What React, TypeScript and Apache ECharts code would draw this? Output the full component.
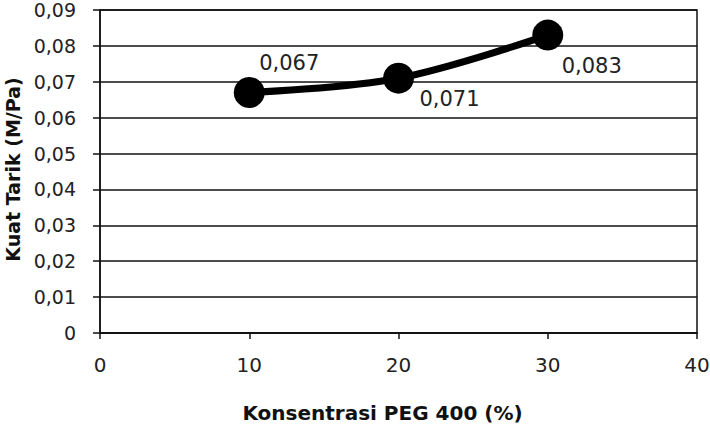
import React, { useEffect, useRef } from "react";
import * as echarts from "echarts";

const concentrations = [10, 20, 30];
const tensileStrength = [0.067, 0.071, 0.083];
const labelOffsets: [number, number][] = [[40, -30], [51, 21], [44, 31]];
const xTitle = "Konsentrasi PEG 400 (%)";
const yTitle = "Kuat Tarik (M/Pa)";

const fmtY = (v: number) => (v === 0 ? "0" : v.toFixed(2).replace(".", ","));

export default function App() {
  const ref = useRef<HTMLDivElement>(null);
  useEffect(() => {
    if (!ref.current) return;
    const chart = echarts.init(ref.current, null, { renderer: "svg" });
    const font = "'DejaVu Sans', Verdana, sans-serif";
    chart.setOption({
      animation: false,
      textStyle: { fontFamily: font },
      grid: {
        left: 100,
        right: 13,
        top: 10,
        bottom: 94,
        containLabel: false,
        outerBoundsMode: "none",
        show: true,
        borderColor: "#111",
        borderWidth: 1.5,
      },
      xAxis: {
        type: "value",
        min: 0,
        max: 40,
        interval: 10,
        name: xTitle,
        nameLocation: "middle",
        nameGap: 70,
        nameTextStyle: {
          fontFamily: font,
          fontSize: 20,
          fontWeight: "bold",
          color: "#111",
          padding: [0, 32, 0, 0],
        },
        axisLine: { show: true, lineStyle: { color: "#111", width: 1.5 } },
        axisTick: { show: true, length: 6, lineStyle: { color: "#111", width: 1.5 } },
        axisLabel: { fontFamily: font, fontSize: 20, color: "#222", margin: 22 },
        splitLine: { show: false },
      },
      yAxis: {
        type: "value",
        min: 0,
        max: 0.09,
        interval: 0.01,
        name: yTitle,
        nameLocation: "middle",
        nameGap: 77,
        nameTextStyle: {
          fontFamily: font,
          fontSize: 19,
          fontWeight: "bold",
          color: "#111",
          padding: [0, 0, 0, 4],
        },
        axisLine: { show: true, lineStyle: { color: "#111", width: 1.5 } },
        axisTick: { show: true, length: 7, lineStyle: { color: "#111", width: 1.5 } },
        axisLabel: { fontFamily: font, fontSize: 19, color: "#222", margin: 24, formatter: fmtY },
        splitLine: { show: true, lineStyle: { color: "#111", width: 1.5 } },
      },
      series: [
        {
          type: "line",
          smooth: 0.35,
          data: concentrations.map((x, i) => ({
            value: [x, tensileStrength[i]],
            label: {
              show: true,
              position: "inside",
              offset: labelOffsets[i],
              formatter: tensileStrength[i].toFixed(3).replace(".", ","),
              fontFamily: font,
              fontSize: 21,
              color: "#222",
            },
          })),
          symbol: "circle",
          symbolSize: 31,
          itemStyle: { color: "#000" },
          lineStyle: { color: "#000", width: 7 },
        },
      ],
    });
    return () => chart.dispose();
  }, []);
  return (
    <div
      ref={ref}
      style={{ position: "fixed", left: 0, top: 0, width: 710, height: 427, background: "#fff" }}
    />
  );
}
